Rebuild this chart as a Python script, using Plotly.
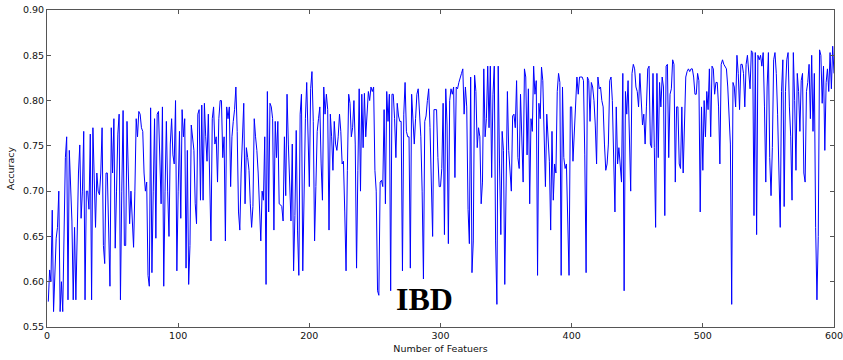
import plotly.graph_objects as go

accuracy = [
    0.578, 0.613, 0.600, 0.679, 0.567, 0.620, 0.648, 0.660, 0.700, 0.567,
    0.600, 0.567, 0.680, 0.737, 0.760, 0.580, 0.745, 0.700, 0.667, 0.580,
    0.660, 0.580, 0.660, 0.720, 0.751, 0.670, 0.700, 0.766, 0.580, 0.700,
    0.700, 0.680, 0.763, 0.580, 0.770, 0.720, 0.660, 0.720, 0.700, 0.696,
    0.720, 0.770, 0.640, 0.620, 0.720, 0.720, 0.650, 0.595, 0.770, 0.720,
    0.780, 0.637, 0.700, 0.763, 0.785, 0.580, 0.700, 0.789, 0.640, 0.640,
    0.777, 0.720, 0.664, 0.700, 0.667, 0.638, 0.700, 0.780, 0.760, 0.788,
    0.785, 0.770, 0.766, 0.720, 0.700, 0.710, 0.607, 0.595, 0.792, 0.610,
    0.700, 0.780, 0.648, 0.785, 0.788, 0.720, 0.686, 0.793, 0.595, 0.700,
    0.777, 0.700, 0.650, 0.752, 0.780, 0.740, 0.730, 0.800, 0.612, 0.700,
    0.766, 0.670, 0.790, 0.760, 0.780, 0.615, 0.745, 0.597, 0.640, 0.773,
    0.760, 0.745, 0.686, 0.664, 0.785, 0.790, 0.690, 0.795, 0.690, 0.797,
    0.760, 0.733, 0.785, 0.700, 0.645, 0.780, 0.793, 0.752, 0.760, 0.710,
    0.780, 0.800, 0.800, 0.737, 0.760, 0.645, 0.793, 0.780, 0.793, 0.705,
    0.760, 0.777, 0.790, 0.815, 0.766, 0.677, 0.657, 0.720, 0.770, 0.797,
    0.686, 0.748, 0.737, 0.723, 0.686, 0.660, 0.683, 0.780, 0.760, 0.745,
    0.720, 0.670, 0.645, 0.700, 0.690, 0.760, 0.597, 0.810, 0.677, 0.797,
    0.793, 0.780, 0.657, 0.777, 0.737, 0.777, 0.686, 0.685, 0.683, 0.667,
    0.760, 0.695, 0.807, 0.752, 0.700, 0.667, 0.752, 0.612, 0.673, 0.767,
    0.657, 0.607, 0.785, 0.807, 0.612, 0.723, 0.780, 0.820, 0.760, 0.705,
    0.813, 0.832, 0.777, 0.645, 0.705, 0.766, 0.780, 0.793, 0.730, 0.690,
    0.815, 0.785, 0.807, 0.790, 0.657, 0.785, 0.760, 0.723, 0.777, 0.752,
    0.745, 0.760, 0.785, 0.766, 0.730, 0.733, 0.677, 0.612, 0.723, 0.807,
    0.797, 0.760, 0.770, 0.800, 0.752, 0.615, 0.723, 0.813, 0.700, 0.807,
    0.748, 0.808, 0.760, 0.780, 0.810, 0.800, 0.815, 0.810, 0.815, 0.723,
    0.700, 0.590, 0.585, 0.710, 0.712, 0.705, 0.790, 0.686, 0.810, 0.777,
    0.807, 0.590, 0.807, 0.807, 0.780, 0.737, 0.797, 0.783, 0.777, 0.777,
    0.612, 0.785, 0.820, 0.766, 0.760, 0.760, 0.615, 0.807, 0.777, 0.752,
    0.780, 0.807, 0.813, 0.777, 0.760, 0.700, 0.603, 0.777, 0.783, 0.800,
    0.813, 0.770, 0.700, 0.650, 0.790, 0.790, 0.790, 0.737, 0.705, 0.705,
    0.725, 0.797, 0.652, 0.813, 0.773, 0.642, 0.800, 0.813, 0.807, 0.815,
    0.715, 0.815, 0.813, 0.820, 0.824, 0.830, 0.835, 0.785, 0.815, 0.793,
    0.680, 0.642, 0.826, 0.610, 0.645, 0.828, 0.810, 0.748, 0.770, 0.760,
    0.686, 0.710, 0.835, 0.760, 0.780, 0.838, 0.770, 0.838, 0.715, 0.807,
    0.838, 0.645, 0.575, 0.838, 0.730, 0.652, 0.766, 0.745, 0.597, 0.737,
    0.810, 0.745, 0.723, 0.700, 0.783, 0.785, 0.770, 0.822, 0.737, 0.725,
    0.807, 0.740, 0.710, 0.835, 0.826, 0.740, 0.813, 0.686, 0.780, 0.766,
    0.838, 0.807, 0.822, 0.607, 0.797, 0.780, 0.837, 0.822, 0.766, 0.705,
    0.785, 0.760, 0.733, 0.657, 0.766, 0.690, 0.730, 0.720, 0.810, 0.830,
    0.820, 0.607, 0.815, 0.737, 0.725, 0.730, 0.668, 0.607, 0.793, 0.793,
    0.733, 0.766, 0.810, 0.826, 0.807, 0.826, 0.826, 0.826, 0.822, 0.740,
    0.610, 0.826, 0.822, 0.777, 0.820, 0.815, 0.800, 0.773, 0.730, 0.826,
    0.813, 0.815, 0.800, 0.793, 0.752, 0.723, 0.730, 0.752, 0.822, 0.826,
    0.800, 0.752, 0.677, 0.793, 0.730, 0.748, 0.733, 0.710, 0.830, 0.590,
    0.810, 0.785, 0.822, 0.773, 0.700, 0.830, 0.840, 0.835, 0.815, 0.810,
    0.793, 0.830, 0.797, 0.773, 0.785, 0.752, 0.793, 0.835, 0.838, 0.752,
    0.748, 0.830, 0.748, 0.660, 0.830, 0.737, 0.820, 0.793, 0.826, 0.815,
    0.673, 0.838, 0.840, 0.737, 0.807, 0.813, 0.845, 0.840, 0.710, 0.793,
    0.793, 0.730, 0.725, 0.793, 0.720, 0.770, 0.826, 0.832, 0.835, 0.832,
    0.835, 0.835, 0.826, 0.807, 0.807, 0.830, 0.822, 0.677, 0.793, 0.723,
    0.800, 0.760, 0.810, 0.790, 0.835, 0.760, 0.838, 0.835, 0.807, 0.820,
    0.820, 0.793, 0.730, 0.840, 0.845, 0.840, 0.838, 0.835, 0.815, 0.780,
    0.752, 0.575, 0.820, 0.815, 0.793, 0.850, 0.830, 0.790, 0.840, 0.840,
    0.830, 0.793, 0.840, 0.850, 0.830, 0.813, 0.855, 0.853, 0.673, 0.853,
    0.652, 0.850, 0.845, 0.850, 0.838, 0.853, 0.793, 0.710, 0.815, 0.853,
    0.737, 0.695, 0.748, 0.845, 0.853, 0.830, 0.785, 0.723, 0.660, 0.810,
    0.845, 0.683, 0.810, 0.845, 0.853, 0.793, 0.760, 0.690, 0.853, 0.800,
    0.723, 0.830, 0.810, 0.766, 0.822, 0.830, 0.720, 0.710, 0.810, 0.820,
    0.840, 0.780, 0.850, 0.766, 0.830, 0.660, 0.580, 0.650, 0.856, 0.850,
    0.797, 0.838, 0.745, 0.820, 0.835, 0.810, 0.853, 0.813, 0.860, 0.830,
]
num_features = list(range(1, len(accuracy) + 1))

x_ticks = [0, 100, 200, 300, 400, 500, 600]
y_ticks = [0.55, 0.60, 0.65, 0.70, 0.75, 0.80, 0.85, 0.90]

dataset_label = "IBD"
label_pos = (288, 0.581)

fig = go.Figure()
fig.add_trace(go.Scatter(
    x=num_features, y=accuracy, mode="lines",
    line=dict(color="#0000ff", width=1),
    showlegend=False, hoverinfo="skip",
))

axis_font = dict(family="DejaVu Sans", size=9.5, color="#111")
common = dict(
    showline=True, linecolor="#555", linewidth=1, mirror="ticks",
    ticks="inside", ticklen=4, tickcolor="#555", tickwidth=1,
    showgrid=False, zeroline=False, tickfont=axis_font,
    ticklabeloverflow="allow",
)
fig.update_xaxes(
    range=[0, 600], tickvals=x_ticks, ticktext=[str(v) for v in x_ticks],
    title=dict(text="Number of Featuers", font=axis_font, standoff=4),
    automargin=False, **common,
)
fig.update_yaxes(
    range=[0.55, 0.90], tickvals=y_ticks, ticktext=[f"{v:.2f}" for v in y_ticks],
    title=dict(text="Accuracy", font=axis_font, standoff=6),
    automargin=False, **common,
)

fig.add_annotation(
    x=label_pos[0], y=label_pos[1], xref="x", yref="y",
    text=f"<b>{dataset_label}</b>", showarrow=False,
    font=dict(family="Liberation Serif", size=32, color="#000"),
)

fig.update_layout(
    width=843, height=360,
    margin=dict(l=47, r=9, t=10, b=33),
    paper_bgcolor="white", plot_bgcolor="white",
)

fig.write_html("out.html")
